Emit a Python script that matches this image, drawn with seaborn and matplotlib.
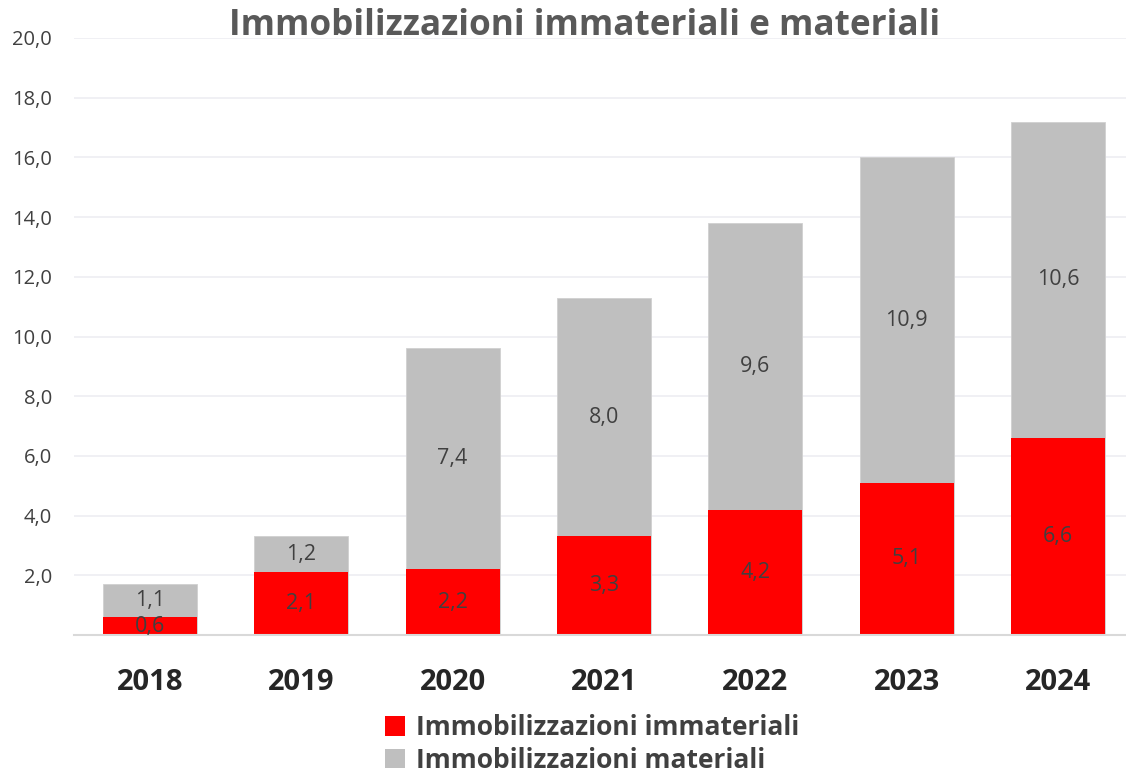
import matplotlib
matplotlib.use("Agg")
import matplotlib.pyplot as plt
import seaborn as sns
import pandas as pd
from matplotlib.patches import Patch

years = ["2018", "2019", "2020", "2021", "2022", "2023", "2024"]
immateriali = [0.6, 2.1, 2.2, 3.3, 4.2, 5.1, 6.6]
materiali = [1.1, 1.2, 7.4, 8.0, 9.6, 10.9, 10.6]
y_ticks = [2, 4, 6, 8, 10, 12, 14, 16, 18, 20]
title = "Immobilizzazioni immateriali e materiali"
series_names = ["Immobilizzazioni immateriali", "Immobilizzazioni materiali"]

RED = "#FF0000"
GREY = "#BFBFBF"
TXT = "#404040"

sns.set_theme(style="white")
plt.rcParams["font.family"] = ["Open Sans", "DejaVu Sans"]

df = pd.DataFrame({"year": years, "imm": immateriali, "mat": materiali})
df["tot"] = df["imm"] + df["mat"]

fig = plt.figure(figsize=(11.26, 7.74), dpi=100)
W, H = 1126, 774
left_px, right_px = 74, 1134
bot_px, top_px = 635, 38
ax = fig.add_axes([left_px / W, 1 - bot_px / H, (right_px - left_px) / W, (bot_px - top_px) / H])

sns.barplot(data=df, x="year", y="tot", color=GREY, width=0.62, saturation=1, ax=ax,
            zorder=3, linewidth=0.6, edgecolor="#D0D0D0")
sns.barplot(data=df, x="year", y="imm", color=RED, width=0.62, saturation=1, ax=ax,
            zorder=4, linewidth=0)

ax.set_ylim(0, 20)
ax.set_xlim(-0.5, 6.5)
ax.set_yticks(y_ticks)
ax.set_yticklabels([f"{v:.1f}".replace(".", ",") for v in y_ticks], fontsize=14.5, color=TXT)
ax.tick_params(axis="y", length=0, pad=16)
ax.tick_params(axis="x", length=0, pad=24)
for lbl in ax.get_xticklabels():
    lbl.set_fontsize(21)
    lbl.set_fontweight("bold")
    lbl.set_color("#262626")
ax.set_xlabel("")
ax.set_ylabel("")
ax.grid(axis="y", color="#EDEDF2", linewidth=1.2, zorder=0)
ax.set_axisbelow(True)
for s in ["top", "right", "left"]:
    ax.spines[s].set_visible(False)
ax.spines["bottom"].set_color("#D9D9D9")
ax.spines["bottom"].set_linewidth(1.5)
ax.spines["bottom"].set_zorder(5)

for i, (a, b) in enumerate(zip(immateriali, materiali)):
    ax.text(i, a / 2, f"{a:.1f}".replace(".", ","), ha="center", va="center",
            fontsize=15.5, color=TXT, zorder=6)
    ax.text(i, a + b / 2, f"{b:.1f}".replace(".", ","), ha="center", va="center",
            fontsize=15.5, color=TXT, zorder=6)

fig.text(585 / W, 1 - 26 / H, title, ha="center", va="center", fontsize=25.3,
         fontweight="bold", color="#595959")

handles = [Patch(facecolor=RED, edgecolor="none"), Patch(facecolor=GREY, edgecolor="none")]
leg = fig.legend(handles, series_names, loc="center", bbox_to_anchor=(592 / W, 1 - 744 / H),
                 ncol=1, frameon=False, handlelength=0.75, handleheight=0.75, handletextpad=0.4,
                 labelspacing=0.2, prop={"size": 19, "weight": "bold"})
for t in leg.get_texts():
    t.set_color(TXT)

fig.savefig("out.png", dpi=100)
